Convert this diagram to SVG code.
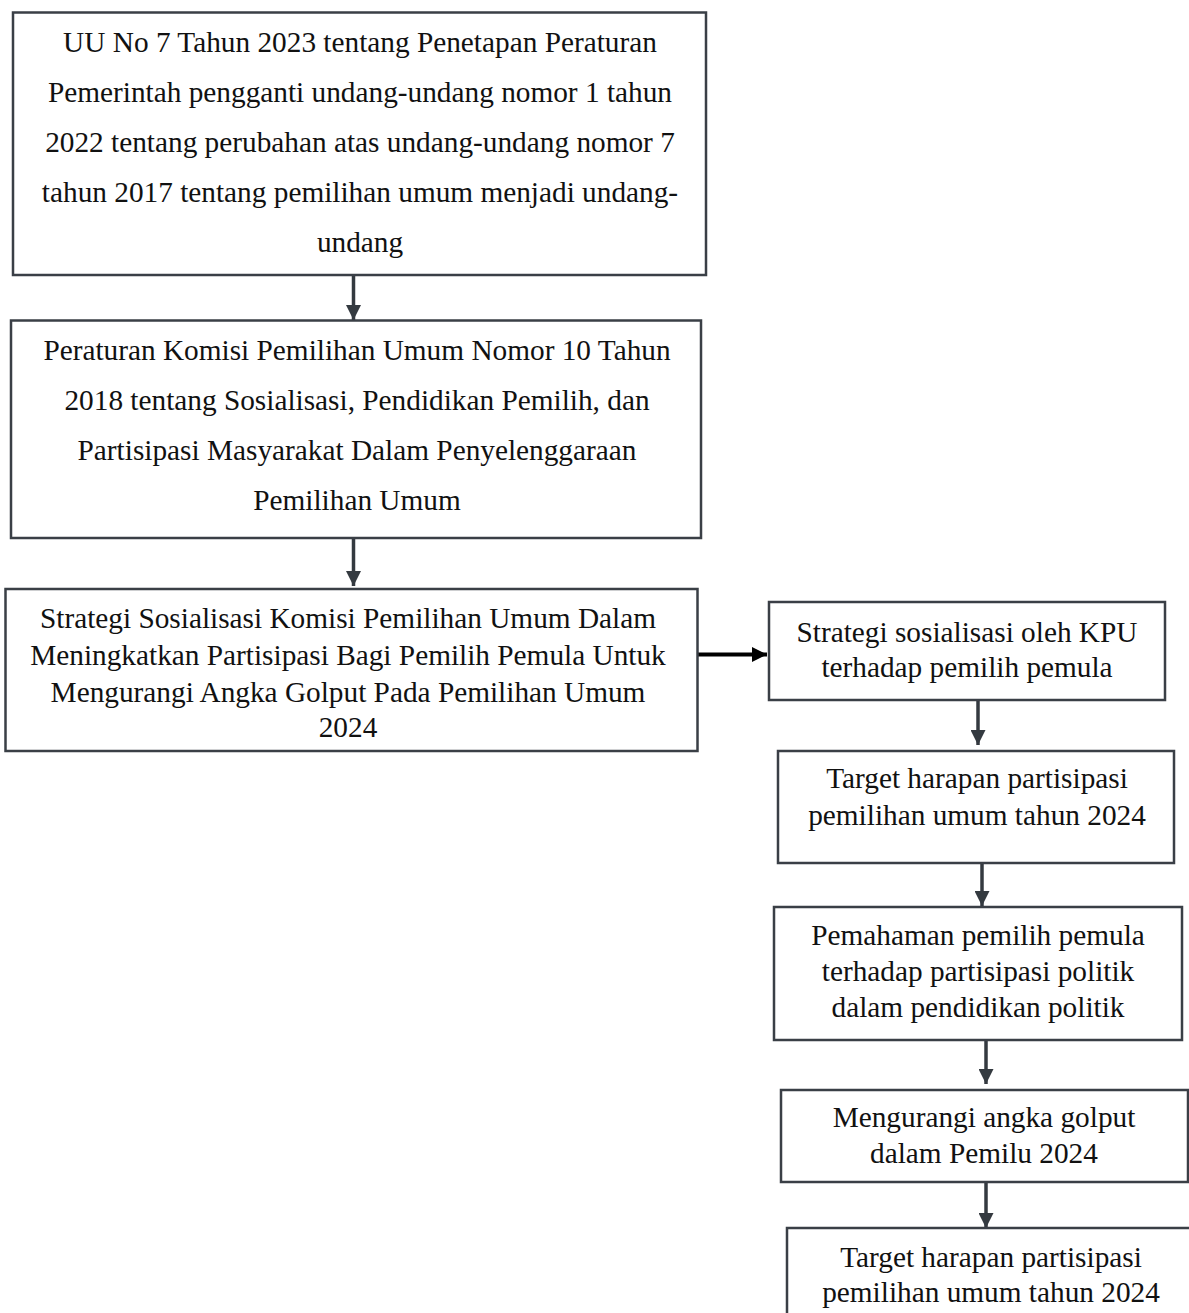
<svg xmlns="http://www.w3.org/2000/svg" width="1189" height="1313" viewBox="0 0 1189 1313">
<style>
.box{fill:#ffffff;stroke:#3a3f46;stroke-width:2.5}
.t{font-family:"Liberation Serif","Times New Roman",serif;font-size:29.3px;fill:#111111;text-anchor:middle}
.c{stroke:#343a40;stroke-width:3.5;fill:none}
.h{stroke:#000000;stroke-width:4;fill:none}
</style>
<defs>
<marker id="ah" markerWidth="15" markerHeight="15" refX="15" refY="7.5" orient="auto" markerUnits="userSpaceOnUse">
<path d="M0,0 L15,7.5 L0,15 Z" fill="#343a40"/>
</marker>
<marker id="ahk" markerWidth="15" markerHeight="15" refX="15" refY="7.5" orient="auto" markerUnits="userSpaceOnUse">
<path d="M0,0 L15,7.5 L0,15 Z" fill="#000000"/>
</marker>
</defs>
<rect width="1189" height="1313" fill="#ffffff"/>
<g id="connectors">
<line class="c" x1="353.5" y1="276" x2="353.5" y2="320" marker-end="url(#ah)"/>
<line class="c" x1="353.5" y1="539" x2="353.5" y2="586" marker-end="url(#ah)"/>
<line class="h" x1="698" y1="654.5" x2="767" y2="654.5" marker-end="url(#ahk)"/>
<line class="c" x1="978" y1="701" x2="978" y2="745" marker-end="url(#ah)"/>
<line class="c" x1="982" y1="864" x2="982" y2="906" marker-end="url(#ah)"/>
<line class="c" x1="986" y1="1041" x2="986" y2="1084" marker-end="url(#ah)"/>
<line class="c" x1="986" y1="1183" x2="986" y2="1228" marker-end="url(#ah)"/>
</g>
<g id="n1">
<rect class="box" x="13" y="12.5" width="693" height="262.5"/>
<text class="t" x="360" y="52">UU No 7 Tahun 2023 tentang Penetapan Peraturan</text>
<text class="t" x="360" y="102">Pemerintah pengganti undang-undang nomor 1 tahun</text>
<text class="t" x="360" y="152">2022 tentang perubahan atas undang-undang nomor 7</text>
<text class="t" x="360" y="202">tahun 2017 tentang pemilihan umum menjadi undang-</text>
<text class="t" x="360" y="252">undang</text>
</g>
<g id="n2">
<rect class="box" x="11" y="320.5" width="690" height="217.5"/>
<text class="t" x="357" y="360">Peraturan Komisi Pemilihan Umum Nomor 10 Tahun</text>
<text class="t" x="357" y="410">2018 tentang Sosialisasi, Pendidikan Pemilih, dan</text>
<text class="t" x="357" y="460">Partisipasi Masyarakat Dalam Penyelenggaraan</text>
<text class="t" x="357" y="510">Pemilihan Umum</text>
</g>
<g id="n3">
<rect class="box" x="5.5" y="589" width="692" height="162"/>
<text class="t" x="348" y="628">Strategi Sosialisasi Komisi Pemilihan Umum Dalam</text>
<text class="t" x="348" y="665">Meningkatkan Partisipasi Bagi Pemilih Pemula Untuk</text>
<text class="t" x="348" y="702">Mengurangi Angka Golput Pada Pemilihan Umum</text>
<text class="t" x="348" y="737">2024</text>
</g>
<g id="r1">
<rect class="box" x="769" y="602" width="396" height="98"/>
<text class="t" x="967" y="642">Strategi sosialisasi oleh KPU</text>
<text class="t" x="967" y="677">terhadap pemilih pemula</text>
</g>
<g id="r2">
<rect class="box" x="778" y="751" width="396" height="112"/>
<text class="t" x="977" y="788">Target harapan partisipasi</text>
<text class="t" x="977" y="825">pemilihan umum tahun 2024</text>
</g>
<g id="r3">
<rect class="box" x="774" y="907" width="408" height="133"/>
<text class="t" x="978" y="945">Pemahaman pemilih pemula</text>
<text class="t" x="978" y="981">terhadap partisipasi politik</text>
<text class="t" x="978" y="1017">dalam pendidikan politik</text>
</g>
<g id="r4">
<rect class="box" x="781" y="1090" width="407" height="92"/>
<text class="t" x="984" y="1127">Mengurangi angka golput</text>
<text class="t" x="984" y="1163">dalam Pemilu 2024</text>
</g>
<g id="r5">
<rect class="box" x="787" y="1228" width="409" height="100"/>
<text class="t" x="991" y="1267">Target harapan partisipasi</text>
<text class="t" x="991" y="1302">pemilihan umum tahun 2024</text>
</g>
</svg>
